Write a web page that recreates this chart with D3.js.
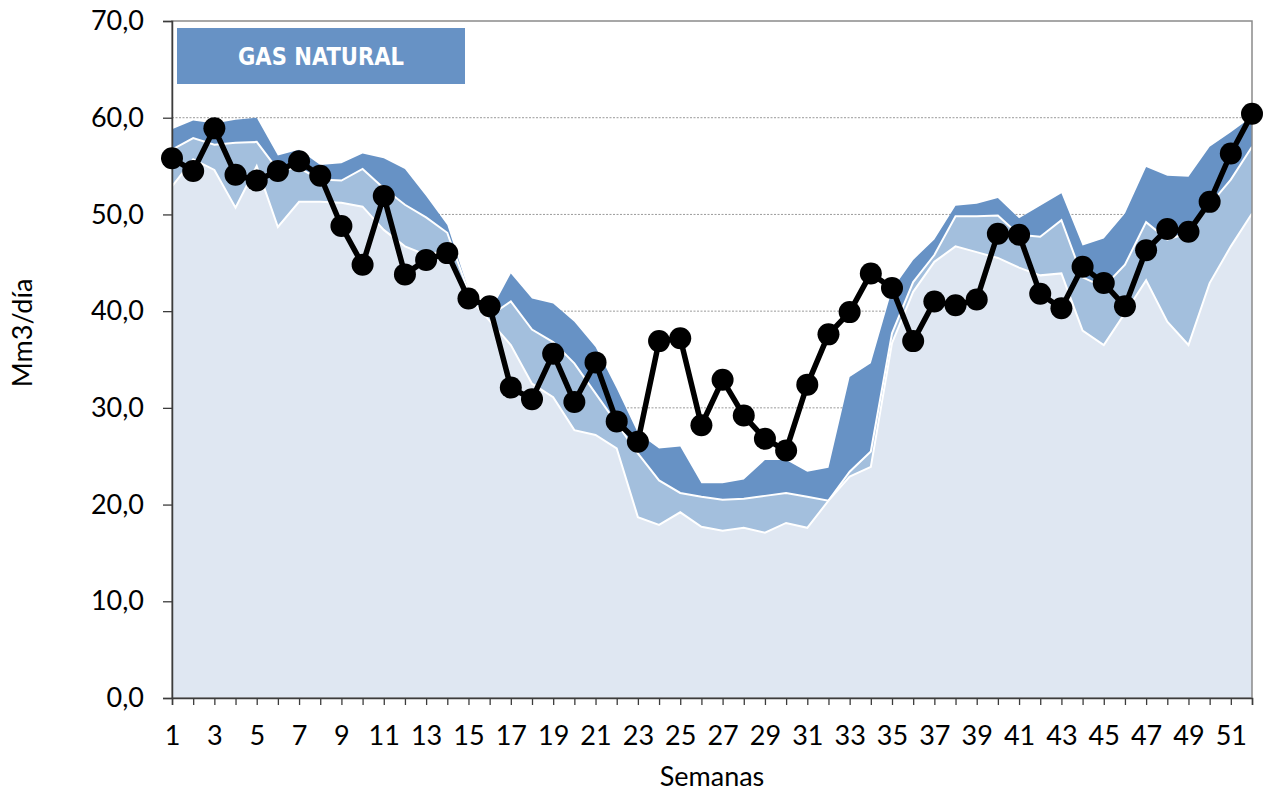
<!DOCTYPE html>
<html>
<head>
<meta charset="utf-8">
<script src="https://cdn.jsdelivr.net/npm/d3@7"></script>
<style>
  body { margin: 0; background: #fff; }
  text { font-family: Lato, "Open Sans", sans-serif; }
</style>
</head>
<body>
<div id="chart"></div>
<script>
// datos (Mm3/día por semana)
var semanas = d3.range(1, 53);
var consumo = [55.8,54.5,58.9,54.1,53.5,54.5,55.5,54.0,48.8,44.8,51.9,43.8,45.3,46.0,41.3,40.5,32.1,30.9,35.6,30.6,
  34.7,28.6,26.5,36.9,37.2,28.2,32.9,29.2,26.8,25.6,32.4,37.6,39.9,43.9,42.4,36.9,41.0,40.6,41.2,48.0,
  47.9,41.8,40.3,44.6,42.9,40.5,46.3,48.5,48.2,51.3,56.3,60.4];
var rangoMax = [58.8,59.7,59.4,59.8,60.0,56.1,56.7,55.1,55.3,56.3,55.8,54.7,51.9,48.9,42.2,39.8,43.9,41.3,40.8,38.9,
  36.3,32.0,27.4,25.8,26.0,22.2,22.2,22.6,24.6,24.6,23.4,23.8,33.2,34.6,42.2,45.3,47.4,50.9,51.1,51.7,
  49.6,50.9,52.2,46.8,47.5,50.1,54.9,54.0,53.9,57.0,58.5,60.1];
var rangoMed = [56.7,57.9,57.2,57.4,57.5,54.6,54.8,53.6,53.5,54.7,52.7,51.0,49.7,48.1,42.0,39.5,41.0,38.1,36.8,34.6,
  31.5,28.4,25.3,22.5,21.2,20.8,20.5,20.6,20.9,21.2,20.8,20.4,23.4,25.5,37.7,43.0,45.8,49.8,49.8,49.9,
  47.9,47.7,49.4,43.5,42.5,44.8,49.2,47.4,48.1,51.0,53.6,57.0];
var rangoMin = [52.9,55.7,54.6,50.7,55.0,48.7,51.3,51.3,51.2,50.8,48.4,46.7,45.8,46.3,41.5,39.0,36.5,32.5,31.1,27.7,
  27.2,25.8,18.7,17.9,19.2,17.7,17.3,17.6,17.1,18.1,17.6,20.4,22.9,23.9,36.7,42.0,45.1,46.7,46.1,45.5,
  44.5,43.7,43.9,38.0,36.5,39.8,43.2,38.9,36.5,42.9,46.7,50.1];
var yTicks = [0, 10, 20, 30, 40, 50, 60, 70];

var W = 1270, H = 794;
var margin = {top: 21, right: 18, bottom: 96, left: 172};
var width = W - margin.left - margin.right,
    height = H - margin.top - margin.bottom;

var svg = d3.select("#chart").append("svg")
    .attr("width", W).attr("height", H);

var g = svg.append("g")
    .attr("transform", "translate(" + margin.left + "," + margin.top + ")");

var x = d3.scalePoint().domain(semanas).range([0, width]);
var y = d3.scaleLinear().domain([0, 70]).range([height, 0]);

var fmt = function(d) { return d.toFixed(1).replace(".", ","); };

// grid punteado
g.append("g").selectAll("line")
  .data(yTicks.filter(function(d) { return d > 0 && d < 70; }))
  .enter().append("line")
    .attr("x1", 0).attr("x2", width)
    .attr("y1", function(d) { return y(d); })
    .attr("y2", function(d) { return y(d); })
    .style("stroke", "#9a9a9a")
    .style("stroke-width", 1)
    .style("stroke-dasharray", "2,1.5");

// areas superpuestas (no apiladas)
function area(vals) {
  return d3.area()
    .x(function(d, i) { return x(semanas[i]); })
    .y0(height)
    .y1(function(d) { return y(d); })(vals);
}
function topLine(vals) {
  return d3.line()
    .x(function(d, i) { return x(semanas[i]); })
    .y(function(d) { return y(d); })(vals);
}

g.append("path").attr("d", area(rangoMax)).style("fill", "#6792c5");
g.append("path").attr("d", area(rangoMed)).style("fill", "#a3bfdd");
g.append("path").attr("d", topLine(rangoMed))
  .style("fill", "none").style("stroke", "#fff").style("stroke-width", 2);
g.append("path").attr("d", area(rangoMin)).style("fill", "#dfe7f2");
g.append("path").attr("d", topLine(rangoMin))
  .style("fill", "none").style("stroke", "#fff").style("stroke-width", 2);

// marco
g.append("rect")
  .attr("x", 0).attr("y", 0).attr("width", width).attr("height", height)
  .style("fill", "none").style("stroke", "#8a8a8a").style("stroke-width", 1.5);

// ejes
var yAxis = d3.axisLeft(y).tickValues(yTicks).tickFormat(fmt).tickSize(9).tickPadding(19);
var xAxis = d3.axisBottom(x)
  .tickFormat(function(d) { return d % 2 === 1 ? d : ""; })
  .tickSize(7).tickPadding(21);

var yAxisEl = g.append("g").attr("class", "y axis").call(yAxis);
var xAxisEl = g.append("g").attr("class", "x axis")
  .attr("transform", "translate(0," + height + ")").call(xAxis);

[yAxisEl, xAxisEl].forEach(function(a) {
  a.select(".domain").style("stroke", "#3c3c3c").style("stroke-width", 1.5);
  a.selectAll(".tick line").style("stroke", "#3c3c3c").style("stroke-width", 1.3);
  a.selectAll("text").style("font-size", "27px").style("fill", "#000")
    .style("font-family", "Lato, 'Open Sans', sans-serif");
});

// serie consumo
g.append("path")
  .datum(consumo)
  .attr("d", topLine)
  .style("fill", "none")
  .style("stroke", "#000")
  .style("stroke-width", 5.5)
  .style("stroke-linejoin", "round");

g.append("g").selectAll("circle")
  .data(consumo)
  .enter().append("circle")
    .attr("cx", function(d, i) { return x(semanas[i]); })
    .attr("cy", function(d) { return y(d); })
    .attr("r", 11)
    .style("fill", "#000");

// titulos de ejes
svg.append("text")
  .attr("x", 712).attr("y", 786)
  .attr("text-anchor", "middle")
  .style("font-size", "27px")
  .text("Semanas");

svg.append("text")
  .attr("transform", "translate(32,333) rotate(-90)")
  .attr("text-anchor", "middle")
  .style("font-size", "27px")
  .text("Mm3/día");

// cuadro titulo
svg.append("rect")
  .attr("x", 177).attr("y", 28).attr("width", 288).attr("height", 56)
  .style("fill", "#6792c5");

svg.append("text")
  .attr("x", 321).attr("y", 65)
  .attr("text-anchor", "middle")
  .attr("textLength", 166)
  .attr("lengthAdjust", "spacingAndGlyphs")
  .style("font-family", "'DejaVu Sans Condensed', 'DejaVu Sans', sans-serif")
  .style("font-weight", "bold")
  .style("font-size", "25px")
  .style("fill", "#fff")
  .text("GAS NATURAL");
</script>
</body>
</html>
